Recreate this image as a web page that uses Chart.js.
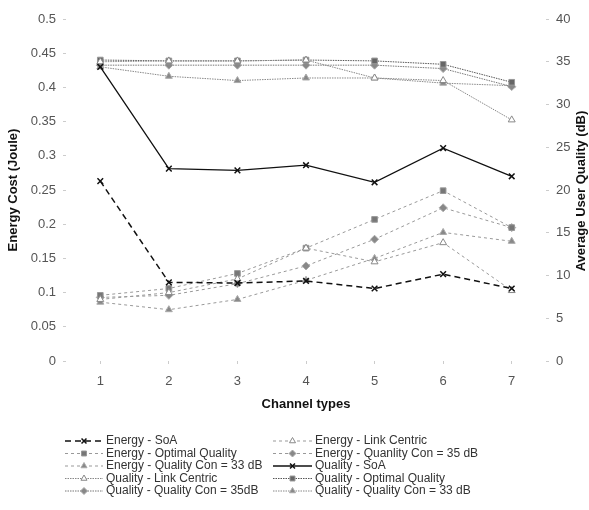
<!DOCTYPE html>
<html lang="en">
<head>
  <meta charset="UTF-8">
  <title>Energy Cost and User Quality by Channel Type</title>
  <script src="https://cdn.jsdelivr.net/npm/chart.js"></script>
  <style>
    body { margin:0; background:#fff; }
    #wrap { width:589px; height:510px; }
  </style>
</head>
<body>
<div id="wrap"><canvas id="chart" width="589" height="510"></canvas></div>
<script>
  // Data
  const channels = ["1","2","3","4","5","6","7"];
  const energySoA    = [0.263, 0.115, 0.114, 0.117, 0.106, 0.127, 0.106];
  const energyLink   = [0.090, 0.100, 0.120, 0.165, 0.145, 0.173, 0.103];
  const energyOpt    = [0.096, 0.106, 0.128, 0.165, 0.207, 0.249, 0.195];
  const energyCon35  = [0.093, 0.096, 0.113, 0.139, 0.178, 0.224, 0.195];
  const energyCon33  = [0.086, 0.075, 0.090, 0.118, 0.150, 0.188, 0.175];
  const qualitySoA   = [34.4, 22.5, 22.3, 22.9, 20.9, 24.9, 21.6];
  const qualityLink  = [35.0, 35.1, 35.1, 35.2, 33.1, 32.8, 28.2];
  const qualityOpt   = [35.2, 35.1, 35.1, 35.2, 35.1, 34.7, 32.6];
  const qualityCon35 = [34.6, 34.6, 34.6, 34.6, 34.6, 34.2, 32.1];
  const qualityCon33 = [34.4, 33.3, 32.8, 33.1, 33.1, 32.5, 32.2];

  const FONT = "'Liberation Sans', Arial, sans-serif";

  function ds(label, data, axis, opts){
    return Object.assign({
      label, data, yAxisID: axis,
      borderWidth: 1, pointRadius: 4, pointBorderWidth: 1,
      tension: 0, fill: false
    }, opts);
  }

  const dashE = [3,3], dotQ = [1.5,1];
  const datasets = [
    ds("Energy - SoA", energySoA, "y", {borderColor:"#111", borderDash:[6,4], borderWidth:1.5,
       pointStyle:"crossRot", pointBorderColor:"#111", pointBorderWidth:1.5}),
    ds("Energy - Link Centric", energyLink, "y", {borderColor:"#999", borderDash:dashE,
       pointStyle:"triangle", pointBackgroundColor:"#fff", pointBorderColor:"#888"}),
    ds("Energy - Optimal Quality", energyOpt, "y", {borderColor:"#999", borderDash:dashE,
       pointStyle:"rect", pointBackgroundColor:"#777", pointBorderColor:"#999"}),
    ds("Energy - Quanlity Con = 35 dB", energyCon35, "y", {borderColor:"#999", borderDash:dashE,
       pointStyle:"rectRot", pointBackgroundColor:"#888", pointBorderColor:"#aaa"}),
    ds("Energy - Quality Con = 33 dB", energyCon33, "y", {borderColor:"#999", borderDash:dashE,
       pointStyle:"triangle", pointBackgroundColor:"#888", pointBorderColor:"#aaa"}),
    ds("Quality - SoA", qualitySoA, "y1", {borderColor:"#111", borderWidth:1.3,
       pointStyle:"crossRot", pointBorderColor:"#111", pointBorderWidth:1.5}),
    ds("Quality - Link Centric", qualityLink, "y1", {borderColor:"#888", borderDash:dotQ,
       pointStyle:"triangle", pointBackgroundColor:"#fff", pointBorderColor:"#888"}),
    ds("Quality - Optimal Quality", qualityOpt, "y1", {borderColor:"#555", borderDash:dotQ,
       pointStyle:"rect", pointBackgroundColor:"#666", pointBorderColor:"#999"}),
    ds("Quality - Quality Con = 35dB", qualityCon35, "y1", {borderColor:"#777", borderDash:dotQ,
       pointStyle:"rectRot", pointBackgroundColor:"#888", pointBorderColor:"#aaa"}),
    ds("Quality - Quality Con = 33 dB", qualityCon33, "y1", {borderColor:"#888", borderDash:dotQ,
       pointStyle:"triangle", pointBackgroundColor:"#888", pointBorderColor:"#aaa"})
  ];

  const rightTitle = "Average User Quality (dB)";

  // two-column legend under the plot + right axis title reading bottom-up
  const gridLegend = {
    id: "gridLegend",
    afterDraw(chart){
      const ctx = chart.ctx;
      const symX = [65, 273], txtX = [106, 315];
      chart.data.datasets.forEach((d, i) => {
        const col = i % 2, row = Math.floor(i / 2);
        const y = 441 + row * 12.5;
        const x0 = symX[col], x1 = txtX[col] - 3;
        ctx.save();
        ctx.strokeStyle = d.borderColor;
        ctx.lineWidth = d.borderWidth;
        ctx.setLineDash(d.borderDash || []);
        ctx.beginPath(); ctx.moveTo(x0, y); ctx.lineTo(x1, y); ctx.stroke();
        ctx.setLineDash([]);
        ctx.fillStyle = d.pointBackgroundColor || "#fff";
        ctx.strokeStyle = d.pointBorderColor;
        ctx.lineWidth = d.pointBorderWidth;
        Chart.helpers.drawPoint(ctx, {
          pointStyle: d.pointStyle, radius: 3.5, rotation: 0,
          borderWidth: d.pointBorderWidth
        }, (x0 + x1) / 2, y);
        ctx.fillStyle = "#333";
        ctx.font = "12px " + FONT;
        ctx.textBaseline = "middle";
        ctx.fillText(d.label, txtX[col], y);
        ctx.restore();
      });

      const area = chart.chartArea;
      ctx.save();
      ctx.translate(581, (area.top + area.bottom) / 2 + 1);
      ctx.rotate(-Math.PI / 2);
      ctx.font = "bold 13px " + FONT;
      ctx.fillStyle = "#111";
      ctx.textAlign = "center";
      ctx.textBaseline = "middle";
      ctx.fillText(rightTitle, 0, 0);
      ctx.restore();
    }
  };

  const tickFont = {family: FONT, size: 13};
  const titleFont = {family: FONT, size: 13, weight: "bold"};
  const trimZeros = v => String(Number(Number(v).toFixed(2)));

  new Chart(document.getElementById("chart"), {
    type: "line",
    data: { labels: channels, datasets },
    options: {
      responsive: false,
      animation: false,
      layout: { padding: { top: 19, bottom: 94 } },
      plugins: { legend: { display: false }, tooltip: { enabled: false } },
      scales: {
        x: {
          offset: true,
          grid: { drawOnChartArea: false, tickLength: 3, color: "#ccc" },
          border: { display: false },
          ticks: { color: "#555", font: tickFont, padding: 10 },
          title: { display: true, text: "Channel types", color: "#111", font: titleFont, padding: {top: 4} },
          afterFit(s){ s.height = 55; }
        },
        y: {
          position: "left", min: 0, max: 0.5,
          ticks: { stepSize: 0.05, color: "#555", font: tickFont, padding: 7, callback: trimZeros },
          grid: { drawOnChartArea: false, tickLength: 3, color: "#ccc" },
          border: { display: false },
          title: { display: true, text: "Energy Cost (Joule)", color: "#111", font: titleFont, padding: {top: 6, bottom: 0} },
          afterFit(s){ s.width = 66; }
        },
        y1: {
          position: "right", min: 0, max: 40,
          ticks: { stepSize: 5, color: "#555", font: tickFont, padding: 7 },
          grid: { drawOnChartArea: false, tickLength: 3, color: "#ccc" },
          border: { display: false },
          afterFit(s){ s.width = 43; }
        }
      }
    },
    plugins: [gridLegend]
  });
</script>
</body>
</html>
